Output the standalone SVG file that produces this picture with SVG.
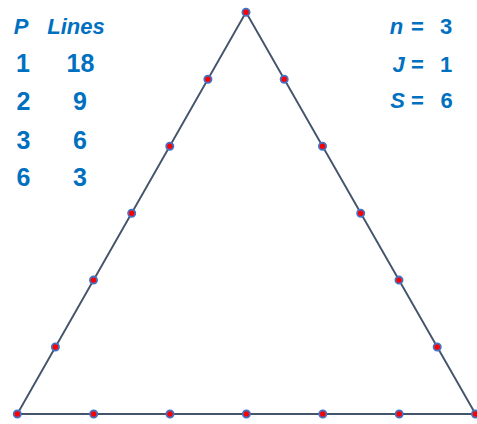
<svg xmlns="http://www.w3.org/2000/svg" width="477" height="424" viewBox="0 0 477 424">
<style>
.edge{stroke:#44546A;stroke-width:1.9;fill:none;stroke-linecap:round}
.pt{fill:#FF0000;stroke:#4472C4;stroke-width:1.8}
.t{font-family:"Liberation Sans",Arial,sans-serif;font-weight:bold;fill:#0070C0;text-anchor:middle}
.h{font-size:22px;font-style:italic}
.d{font-size:25px}
.r{font-size:22px}
.i{font-style:italic}
</style>
<rect width="477" height="424" fill="#FFFFFF"/>
<g id="connectors">
<line class="edge" x1="17.3" y1="414" x2="246" y2="12.3"/>
<line class="edge" x1="246" y1="12.3" x2="475.5" y2="414"/>
<line class="edge" x1="17.3" y1="414" x2="475.5" y2="414"/>
</g>
<g id="nodes">
<circle id="p-b" class="pt" cx="17.3" cy="414" r="3.6"/>
<circle id="p-l1" class="pt" cx="55.4" cy="347" r="3.6"/>
<circle id="p-l2" class="pt" cx="93.5" cy="280.1" r="3.6"/>
<circle id="p-l3" class="pt" cx="131.7" cy="213.2" r="3.6"/>
<circle id="p-l4" class="pt" cx="169.8" cy="146.2" r="3.6"/>
<circle id="p-l5" class="pt" cx="207.9" cy="79.3" r="3.6"/>
<circle id="p-a" class="pt" cx="246" cy="12.3" r="3.6"/>
<circle id="p-r1" class="pt" cx="284.2" cy="79.3" r="3.6"/>
<circle id="p-r2" class="pt" cx="322.5" cy="146.2" r="3.6"/>
<circle id="p-r3" class="pt" cx="360.7" cy="213.2" r="3.6"/>
<circle id="p-r4" class="pt" cx="399" cy="280.1" r="3.6"/>
<circle id="p-r5" class="pt" cx="437.2" cy="347" r="3.6"/>
<circle id="p-c" class="pt" cx="475.5" cy="414" r="3.6"/>
<circle id="p-b1" class="pt" cx="93.7" cy="414" r="3.6"/>
<circle id="p-b2" class="pt" cx="170" cy="414" r="3.6"/>
<circle id="p-b3" class="pt" cx="246.4" cy="414" r="3.6"/>
<circle id="p-b4" class="pt" cx="322.8" cy="414" r="3.6"/>
<circle id="p-b5" class="pt" cx="399.2" cy="414" r="3.6"/>
</g>
<g id="table">
<text class="t h" x="21" y="34">P</text>
<text class="t h" x="76" y="34">Lines</text>
<text class="t d" x="23" y="72">1</text>
<text class="t d" x="80.5" y="72">18</text>
<text class="t d" x="23.5" y="110">2</text>
<text class="t d" x="80" y="110">9</text>
<text class="t d" x="23.5" y="148.5">3</text>
<text class="t d" x="80" y="148.5">6</text>
<text class="t d" x="23.5" y="186">6</text>
<text class="t d" x="80" y="186">3</text>
</g>
<g id="params">
<text class="t r" y="34"><tspan class="i" x="396.5">n</tspan><tspan x="417.5">=</tspan><tspan x="446">3</tspan></text>
<text class="t r" y="72"><tspan class="i" x="398.5">J</tspan><tspan x="417.5">=</tspan><tspan x="446">1</tspan></text>
<text class="t r" y="108"><tspan class="i" x="397.5">S</tspan><tspan x="417.5">=</tspan><tspan x="446.5">6</tspan></text>
</g>
</svg>
